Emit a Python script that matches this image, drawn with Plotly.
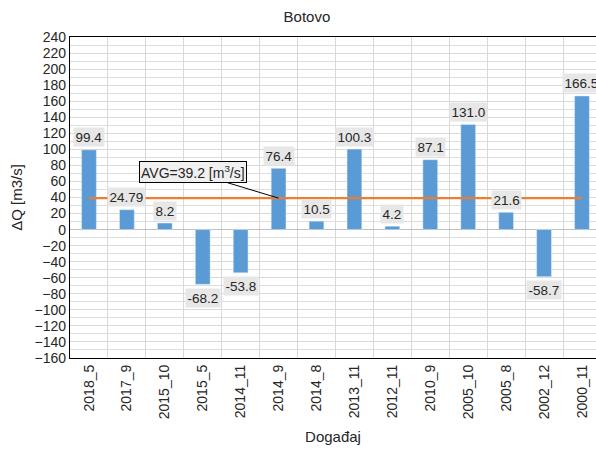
import plotly.graph_objects as go

categories = ["2018_5", "2017_9", "2015_10", "2015_5", "2014_11", "2014_9", "2014_8",
              "2013_11", "2012_11", "2010_9", "2005_10", "2005_8", "2002_12", "2000_11"]
delta_q = [99.4, 24.79, 8.2, -68.2, -53.8, 76.4, 10.5, 100.3, 4.2, 87.1, 131.0, 21.6, -58.7, 166.5]
avg_value = round(sum(delta_q) / len(delta_q), 1)

FONT = "Liberation Sans, Arial, sans-serif"
TXT = "#262626"

fig = go.Figure()
fig.add_trace(go.Bar(x=categories, y=delta_q, marker_color="#5B9BD5", width=0.39,
                     hoverinfo="x+y", showlegend=False))
fig.add_trace(go.Scatter(x=categories, y=[avg_value] * len(categories), mode="lines",
                         line=dict(color="#ED7D31", width=2.2), showlegend=False))


def fmt(v):
    return f"{v:.1f}" if abs(round(v, 1) - v) < 1e-9 else f"{v:.2f}"


annotations = []
for c, v in zip(categories, delta_q):
    annotations.append(dict(
        x=c, y=v, text=fmt(v), showarrow=False,
        yshift=12.5 if v >= 0 else -13.5,
        bgcolor="#E7E7E7", borderpad=1.5,
        font=dict(family=FONT, size=13.5, color=TXT),
    ))

annotations.append(dict(
    x=categories[5], y=avg_value, text=f"AVG={avg_value} [m<sup>3</sup>/s]",
    showarrow=True, arrowhead=0, arrowwidth=1, arrowcolor="black",
    ax=-86, ay=-26, axref="pixel", ayref="pixel",
    bgcolor="#F0F0F0", bordercolor="black", borderwidth=1, borderpad=1,
    font=dict(family=FONT, size=14, color=TXT),
))

fig.update_layout(
    width=596, height=449,
    margin=dict(l=70, r=0, t=37, b=91),
    paper_bgcolor="white", plot_bgcolor="white",
    font=dict(family=FONT, size=14, color=TXT),
    title=dict(text="Botovo", x=0.515, xanchor="center", y=0.962, yanchor="middle",
               font=dict(family=FONT, size=15, color=TXT)),
    annotations=annotations,
    bargap=0.6,
)
fig.update_xaxes(
    type="category", range=[-0.5, 13.37], tickson="boundaries",
    showgrid=True, gridcolor="#D9D9D9", gridwidth=1,
    showline=True, linecolor="black", linewidth=1.3, mirror=True,
    tickangle=-90, ticks="", tickfont=dict(family=FONT, size=14, color=TXT),
    title=dict(text="Događaj", font=dict(family=FONT, size=15, color=TXT), standoff=13),
)
fig.update_yaxes(
    range=[-160, 240], dtick=20, tick0=0,
    showgrid=True, gridcolor="#D9D9D9", gridwidth=1,
    minor=dict(dtick=10, showgrid=True, gridcolor="#DEDEDE", gridwidth=1),
    zeroline=True, zerolinecolor="#BFBFBF", zerolinewidth=1,
    showline=True, linecolor="black", linewidth=1.3,
    ticks="", tickfont=dict(family=FONT, size=14, color=TXT),
    title=dict(text="ΔQ [m3/s]", font=dict(family=FONT, size=15, color=TXT), standoff=8),
)

fig.write_html("out.html", config={"displayModeBar": False},
               post_script="document.body.style.margin='0';document.body.style.overflow='hidden';")
